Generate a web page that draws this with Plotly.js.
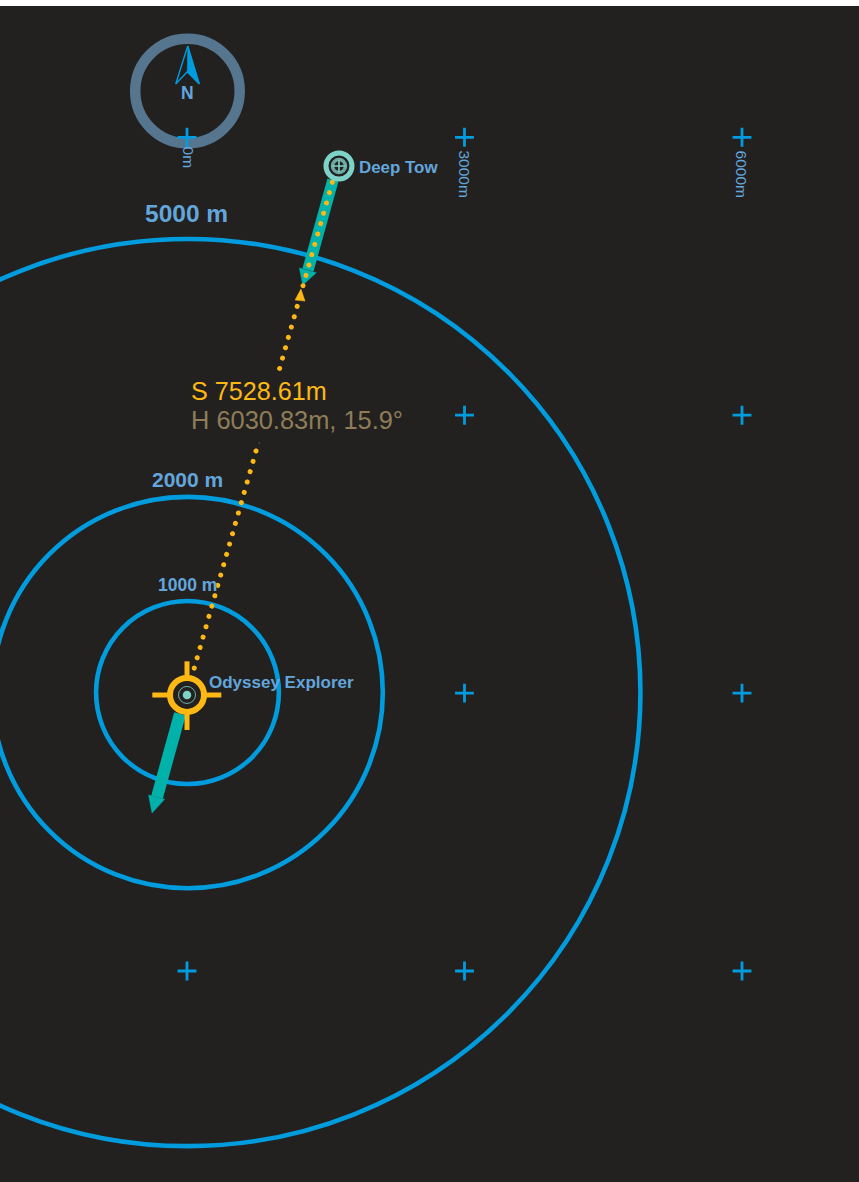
<!DOCTYPE html>
<html><head><meta charset="utf-8">
<script src="https://cdn.plot.ly/plotly-3.0.1.min.js"></script>
<style>html,body{margin:0;padding:0;background:#fff}#c{width:859px;height:1182px}</style>
</head><body><div id="c"></div>
<script>
// all values in metres, relative to the grid origin
const ringRadii=[988,2112,4897];
const ringCenterX=5, ringCenterY=6;
const gridX=[0,3000,6000,3000,6000,3000,6000,0,3000,6000];
const gridY=[6000,6000,6000,3000,3000,0,0,-3000,-3000,-3000];
const compassX=[5], compassY=[6500];
const northOutlineX=[8,-122,3,133,8], northOutlineY=[6986,6576,6708,6576,6986];
const northFillX=[8,3,133,8], northFillY=[6986,6708,6576,6986];
const towX=[1643], towY=[5690];
const shipX=[0], shipY=[-20];
const towShaftX=[1578,1308], towShaftY=[5540,4568];
const towHeadX=[1251,1215,1398,1251], towHeadY=[4405,4589,4538,4405];
const shipShaftX=[-76,-324], shipShaftY=[-225,-1122];
const shipHeadX=[-378,-415,-242,-378], shipHeadY=[-1295,-1100,-1147,-1295];
const slantUpperX=[1571,993], slantUpperY=[5515,3476];
const slantLowerX=[746,70], slantLowerY=[2614,240];
const slantHeadX=[1232,1168,1276,1232], slantHeadY=[4362,4243,4233,4362];
const slantSpeckX=[775,790], slantSpeckY=[2700,2700];
const tickHX=[-375,371], tickHY=[-20,-20];
const tickVX=[0,0], tickVY=[343,-398];
const ringLabels=["1000 m","2000 m","5000 m"];
const ringLabelX=[5,0,-5], ringLabelY=[1167,2311,5183];
const gridLabels=["0m","3000m","6000m"];
const gridLabelX=[16,3000,6005], gridLabelY=[5776,5604,5604];
const slantText="S 7528.61m", horizText="H 6030.83m, 15.9°";

const BG="#222120",BLUE="#009cde",LBL="#62a6dc",ORG="#fdb813",TAN="#8f7d58",TEAL="#00b2a9",MINT="#7ed3c8",STEEL="#56758f";
const FONT="Liberation Sans, Arial, sans-serif";
const DOTS="0.01px,10.74px";
const line=(x,y,c,w,dash)=>({type:"scatter",mode:"lines",x,y,line:{color:c,width:w,dash:dash||"solid"}});
const poly=(x,y,c)=>({type:"scatter",mode:"lines",x,y,fill:"toself",fillcolor:c,line:{color:c,width:0.5}});
const mark=(x,y,sym,size,col,lc,lw)=>({type:"scatter",mode:"markers",x,y,marker:{symbol:sym,size,color:col,line:{color:lc,width:lw}}});

const traces=[
 mark(compassX,compassY,"circle-open",104.5,STEEL,STEEL,10.5),
 line(northOutlineX,northOutlineY,BLUE,1.4),
 poly(northFillX,northFillY,BLUE),
 mark(gridX,gridY,"cross-thin",13.5,BLUE,BLUE,2.8),
 line(towShaftX,towShaftY,TEAL,11.5),
 poly(towHeadX,towHeadY,TEAL),
 line(shipShaftX,shipShaftY,TEAL,12),
 poly(shipHeadX,shipHeadY,TEAL),
 line(slantUpperX,slantUpperY,ORG,5,DOTS),
 line(slantLowerX,slantLowerY,ORG,5,DOTS),
 line(slantSpeckX,slantSpeckY,TAN,0.8),
 poly(slantHeadX,slantHeadY,ORG),
 line(tickHX,tickHY,ORG,5),
 line(tickVX,tickVY,ORG,5),
 mark(shipX,shipY,"circle",34,BG,ORG,6),
 mark(shipX,shipY,"circle",17,"rgba(0,0,0,0)",MINT,0.8),
 mark(shipX,shipY,"circle",8.5,MINT,MINT,0),
 mark(towX,towY,"circle",26,BG,MINT,5),
 mark(towX,towY,"circle",15,"#6fa8a4","#6fa8a4",1.5),
 mark(towX,towY,"circle",9.5,BG,BG,0),
 mark(towX,towY,"cross-thin",9,MINT,MINT,1.6),
];
traces.forEach(t=>{t.hoverinfo="skip";t.showlegend=false;});

const shapes=ringRadii.map(r=>({type:"circle",xref:"x",yref:"y",x0:ringCenterX-r,x1:ringCenterX+r,y0:ringCenterY-r,y1:ringCenterY+r,line:{color:BLUE,width:4.6},layer:"below"}));
const ann=(text,x,y,size,color,opt)=>Object.assign({text,x,y,xref:"x",yref:"y",showarrow:false,font:{family:FONT,size,color},borderpad:0},opt||{});
const ringSizes=[17.5,21,24.5];
const annotations=[
 ...ringLabels.map((t,i)=>ann("<b>"+t+"</b>",ringLabelX[i],ringLabelY[i],ringSizes[i],LBL)),
 ...gridLabels.map((t,i)=>ann(t,gridLabelX[i],gridLabelY[i],15.5,LBL,{textangle:90})),
 ann("<b>N</b>",0,6475,17.5,LBL),
 ann("<b>Deep Tow</b>",1848,5679,16.9,LBL,{xanchor:"left"}),
 ann("<b>Odyssey Explorer</b>",227,114,17,LBL,{xanchor:"left"}),
 ann(slantText,33,3261,25.2,ORG,{xanchor:"left"}),
 ann(horizText,33,2948,25.4,TAN,{xanchor:"left"}),
];
const layout={width:859,height:1182,margin:{l:0,r:0,t:6,b:0,pad:0},paper_bgcolor:"#ffffff",plot_bgcolor:BG,showlegend:false,
 xaxis:{range:[-2021.6,7264.9],visible:false,fixedrange:true},
 yaxis:{range:[-5278,7417.7],visible:false,fixedrange:true},
 shapes,annotations};
Plotly.newPlot("c",traces,layout,{displayModeBar:false,staticPlot:true}).then(()=>{
 document.querySelectorAll(".js-line").forEach(p=>{if((p.style.strokeDasharray||"").startsWith("0.01"))p.style.strokeLinecap="round";});
});
</script></body></html>
